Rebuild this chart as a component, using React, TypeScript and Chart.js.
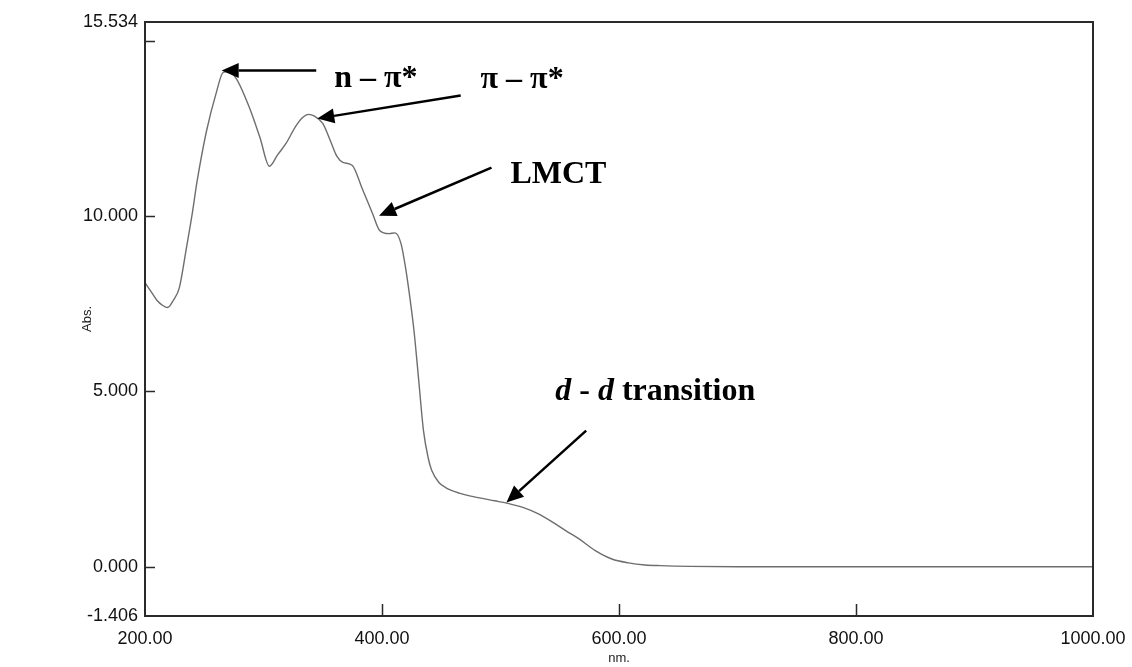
import React, { useEffect, useRef } from 'react';
import { Chart, registerables } from 'chart.js';

Chart.register(...registerables);

// Wavelength (nm) and absorbance
const wavelengths = [
  200, 205, 210, 215, 219, 224, 229, 235, 240, 244, 252, 260, 266, 270, 277, 288, 297, 305,
  312, 319, 327, 333, 338, 343, 350, 357, 362, 367, 375, 383, 392, 398, 406, 411, 416, 420,
  423, 427, 431, 435, 439, 442, 448, 454, 465, 481, 495, 507, 520, 532, 545, 555, 566, 580,
  594, 608, 622, 635, 660, 700, 800, 900, 1000,
];
const absorbance = [
  8.1, 7.85, 7.6, 7.45, 7.39, 7.6, 7.96, 9.1, 10.1, 11.0, 12.44, 13.5, 14.1, 14.12, 13.92, 13.1, 12.24, 11.42,
  11.75, 12.07, 12.55, 12.81, 12.9, 12.85, 12.64, 12.1, 11.7, 11.53, 11.44, 10.81, 10.07, 9.59, 9.5, 9.52, 9.22, 8.5,
  7.8, 6.73, 5.31, 3.88, 3.1, 2.74, 2.4, 2.25, 2.1, 1.97, 1.88, 1.8, 1.68, 1.51, 1.25, 1.03, 0.8, 0.46,
  0.22, 0.11, 0.05, 0.03, 0.01, 0.0, 0.0, 0.0, 0.0,
];

const yMin = -1.406;
const yMax = 15.534;
const yTickValues = [-1.406, 0, 5, 10, 15, 15.534];
const yTickLabels = ['-1.406', '0.000', '5.000', '10.000', '', '15.534'];
const xMin = 200;
const xMax = 1000;
const xTickValues = [200, 400, 600, 800, 1000];
const xTickLabels = ['200.00', '400.00', '600.00', '800.00', '1000.00'];

const xTitle = 'nm.';
const yTitle = 'Abs.';

// Annotation labels: [text parts], text anchor and arrow (in data units)
const annotationTexts = [
  [{ t: 'n – π*', i: false }],
  [{ t: 'π – π*', i: false }],
  [{ t: 'LMCT', i: false }],
  [{ t: 'd', i: true }, { t: ' - ', i: false }, { t: 'd', i: true }, { t: ' transition', i: false }],
];
const annotationTextPos = [
  [359.7, 13.67],
  [483.2, 13.64],
  [508.4, 10.93],
  [546.2, 4.74],
];
const arrowTails = [
  [344.5, 14.15],
  [466.4, 13.44],
  [492.4, 11.38],
  [572.3, 3.88],
];
const arrowTips = [
  [264.7, 14.15],
  [345.4, 12.78],
  [397.5, 10.01],
  [505.0, 1.83],
];

const decorPlugin = {
  id: 'decor',
  afterDraw(chart: any) {
    const ctx = chart.ctx;
    const { left, right, top, bottom } = chart.chartArea;
    const xs = chart.scales.x;
    const ys = chart.scales.y;
    ctx.save();
    // frame
    ctx.strokeStyle = '#2a2a2a';
    ctx.lineWidth = 2;
    ctx.strokeRect(left, top, right - left, bottom - top);
    // inward ticks
    ctx.lineWidth = 1.5;
    ctx.beginPath();
    yTickValues.forEach((v) => {
      if (v === yMin || v === yMax) return;
      const py = Math.round(ys.getPixelForValue(v)) + 0.5;
      ctx.moveTo(left, py);
      ctx.lineTo(left + 10, py);
    });
    xTickValues.forEach((v) => {
      if (v === xMin || v === xMax) return;
      const px = Math.round(xs.getPixelForValue(v)) + 0.5;
      ctx.moveTo(px, bottom);
      ctx.lineTo(px, bottom - 12);
    });
    ctx.stroke();

    // axis titles
    ctx.fillStyle = '#222';
    ctx.font = '13px "Liberation Sans", Arial, sans-serif';
    ctx.textAlign = 'center';
    ctx.textBaseline = 'middle';
    ctx.fillText(xTitle, (left + right) / 2, 658);
    ctx.save();
    ctx.translate(87, (top + bottom) / 2);
    ctx.rotate(-Math.PI / 2);
    ctx.fillText(yTitle, 0, 0);
    ctx.restore();

    // annotations
    ctx.fillStyle = '#000';
    ctx.strokeStyle = '#000';
    ctx.textAlign = 'left';
    ctx.textBaseline = 'alphabetic';
    annotationTexts.forEach((parts, k) => {
      let x = xs.getPixelForValue(annotationTextPos[k][0]);
      const y = ys.getPixelForValue(annotationTextPos[k][1]);
      parts.forEach((p) => {
        ctx.font = (p.i ? 'italic bold ' : 'bold ') + '32px "Liberation Serif", "Times New Roman", serif';
        ctx.fillText(p.t, x, y);
        x += ctx.measureText(p.t).width;
      });
      const x0 = xs.getPixelForValue(arrowTails[k][0]);
      const y0 = ys.getPixelForValue(arrowTails[k][1]);
      const x1 = xs.getPixelForValue(arrowTips[k][0]);
      const y1 = ys.getPixelForValue(arrowTips[k][1]);
      const ang = Math.atan2(y1 - y0, x1 - x0);
      const headLen = 17;
      const headHalf = 7.5;
      const bx = x1 - headLen * Math.cos(ang);
      const by = y1 - headLen * Math.sin(ang);
      ctx.lineWidth = 2.5;
      ctx.beginPath();
      ctx.moveTo(x0, y0);
      ctx.lineTo(bx, by);
      ctx.stroke();
      ctx.beginPath();
      ctx.moveTo(x1, y1);
      ctx.lineTo(bx + headHalf * Math.sin(ang), by - headHalf * Math.cos(ang));
      ctx.lineTo(bx - headHalf * Math.sin(ang), by + headHalf * Math.cos(ang));
      ctx.closePath();
      ctx.fill();
    });
    ctx.restore();
  },
};

export default function App() {
  const canvasRef = useRef<HTMLCanvasElement | null>(null);

  useEffect(() => {
    const canvas = canvasRef.current;
    if (!canvas) return;
    const chart = new Chart(canvas, {
      type: 'line',
      data: {
        datasets: [
          {
            data: wavelengths.map((w, i) => ({ x: w, y: absorbance[i] })),
            borderColor: '#6e6e6e',
            borderWidth: 1.4,
            pointRadius: 0,
            cubicInterpolationMode: 'monotone',
            fill: false,
          },
        ],
      },
      options: {
        responsive: false,
        animation: false,
        layout: { padding: { left: 0, top: 22, right: 39, bottom: 0 } },
        plugins: { legend: { display: false }, tooltip: { enabled: false } },
        scales: {
          x: {
            type: 'linear',
            min: xMin,
            max: xMax,
            grid: { display: false, drawTicks: false },
            border: { display: false },
            afterBuildTicks: (axis: any) => {
              axis.ticks = xTickValues.map((v) => ({ value: v }));
            },
            afterFit: (scale: any) => {
              scale.height = 51;
              scale.paddingLeft = 0;
              scale.paddingRight = 0;
            },
            ticks: {
              autoSkip: false,
              maxRotation: 0,
              padding: 12,
              color: '#111',
              font: { family: '"Liberation Sans", Arial, sans-serif', size: 18 },
              callback: (v: any) => xTickLabels[xTickValues.indexOf(Number(v))] ?? '',
            },
          },
          y: {
            type: 'linear',
            min: yMin,
            max: yMax,
            grid: { display: false, drawTicks: false },
            border: { display: false },
            afterBuildTicks: (axis: any) => {
              axis.ticks = yTickValues.map((v) => ({ value: v }));
            },
            afterFit: (scale: any) => {
              scale.width = 145;
              scale.paddingTop = 0;
              scale.paddingBottom = 0;
            },
            ticks: {
              autoSkip: false,
              padding: 7,
              color: '#111',
              font: { family: '"Liberation Sans", Arial, sans-serif', size: 18 },
              callback: (v: any) => yTickLabels[yTickValues.indexOf(Number(v))] ?? '',
            },
          },
        },
      },
      plugins: [decorPlugin],
    } as any);
    return () => chart.destroy();
  }, []);

  return (
    <div style={{ position: 'fixed', left: 0, top: 0, width: 1132, height: 667, background: '#fff' }}>
      <canvas ref={canvasRef} width={1132} height={667} style={{ display: 'block' }} />
    </div>
  );
}
